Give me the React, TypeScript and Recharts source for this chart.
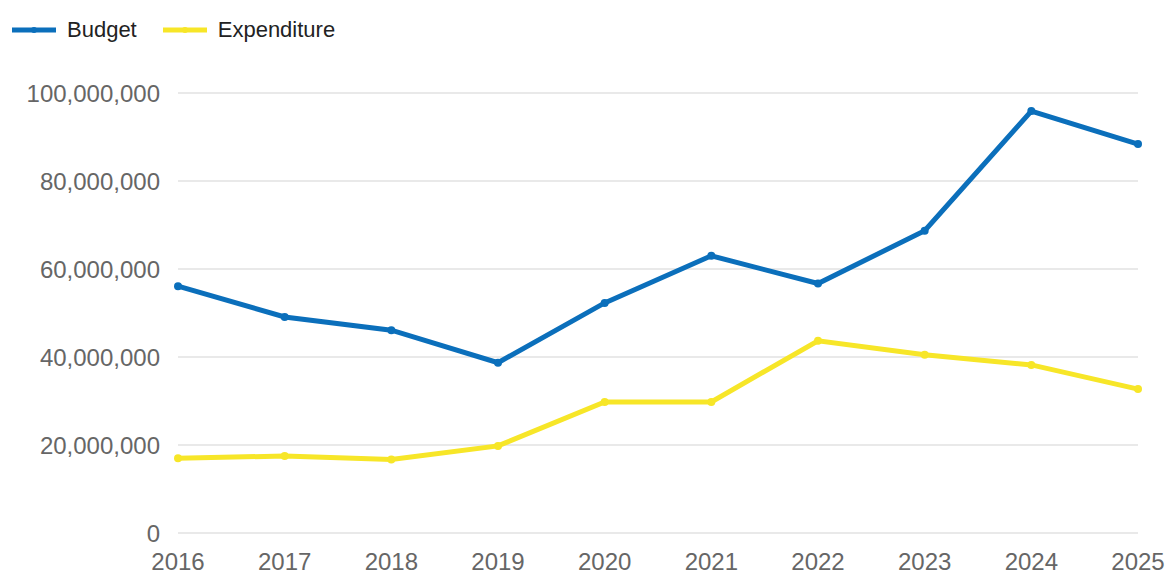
import { LineChart, Line, XAxis, YAxis, CartesianGrid } from "recharts";

const years = ["2016", "2017", "2018", "2019", "2020", "2021", "2022", "2023", "2024", "2025"];
const budget = [56100000, 49100000, 46100000, 38700000, 52300000, 63000000, 56700000, 68700000, 95900000, 88400000];
const expenditure = [17000000, 17500000, 16700000, 19800000, 29800000, 29800000, 43700000, 40500000, 38200000, 32700000];
const yTicks = [0, 20000000, 40000000, 60000000, 80000000, 100000000];

const series = [
  { key: "budget", name: "Budget", color: "#0b6fbb" },
  { key: "expenditure", name: "Expenditure", color: "#f7e628" },
];

const data = years.map((year, i) => ({
  year,
  budget: budget[i],
  expenditure: expenditure[i],
}));

const font = "'Liberation Sans', Arial, sans-serif";

const fmt = (v: number) => v.toLocaleString("en-US");

export default function App() {
  return (
    <div style={{ position: "absolute", left: 0, top: 0, width: 1168, height: 574, background: "#fff", fontFamily: font }}>
      {/* legend */}
      <div style={{ position: "absolute", left: 12, top: 17, display: "flex", alignItems: "center" }}>
        {series.map((s) => (
          <div key={s.key} style={{ display: "flex", alignItems: "center", marginRight: 26 }}>
            <svg width={44} height={10} style={{ marginRight: 11 }}>
              <line x1={0} y1={5} x2={44} y2={5} stroke={s.color} strokeWidth={5} />
              <circle cx={22} cy={5} r={3} fill={s.color} />
            </svg>
            <span style={{ fontSize: 22, color: "#222" }}>{s.name}</span>
          </div>
        ))}
      </div>
      <LineChart width={1168} height={574} data={data} margin={{ top: 93, right: 30, bottom: 0, left: 0 }}>
        <CartesianGrid horizontal vertical={false} stroke="#e2e2e2" strokeWidth={1.5} />
        <XAxis
          dataKey="year"
          axisLine={false}
          tickLine={false}
          interval={0}
          height={41}
          tickMargin={14}
          tick={{ fontSize: 24, fill: "#666", fontFamily: font }}
        />
        <YAxis
          width={178}
          domain={[0, 100000000]}
          ticks={yTicks}
          axisLine={false}
          tickLine={false}
          tickMargin={12}
          tickFormatter={fmt}
          tick={{ fontSize: 24, fill: "#666", fontFamily: font }}
        />
        {series.map((s) => (
          <Line
            key={s.key}
            type="linear"
            dataKey={s.key}
            name={s.name}
            stroke={s.color}
            strokeWidth={5}
            dot={{ r: 4, fill: s.color, stroke: s.color, strokeWidth: 0 }}
            isAnimationActive={false}
          />
        ))}
      </LineChart>
    </div>
  );
}
